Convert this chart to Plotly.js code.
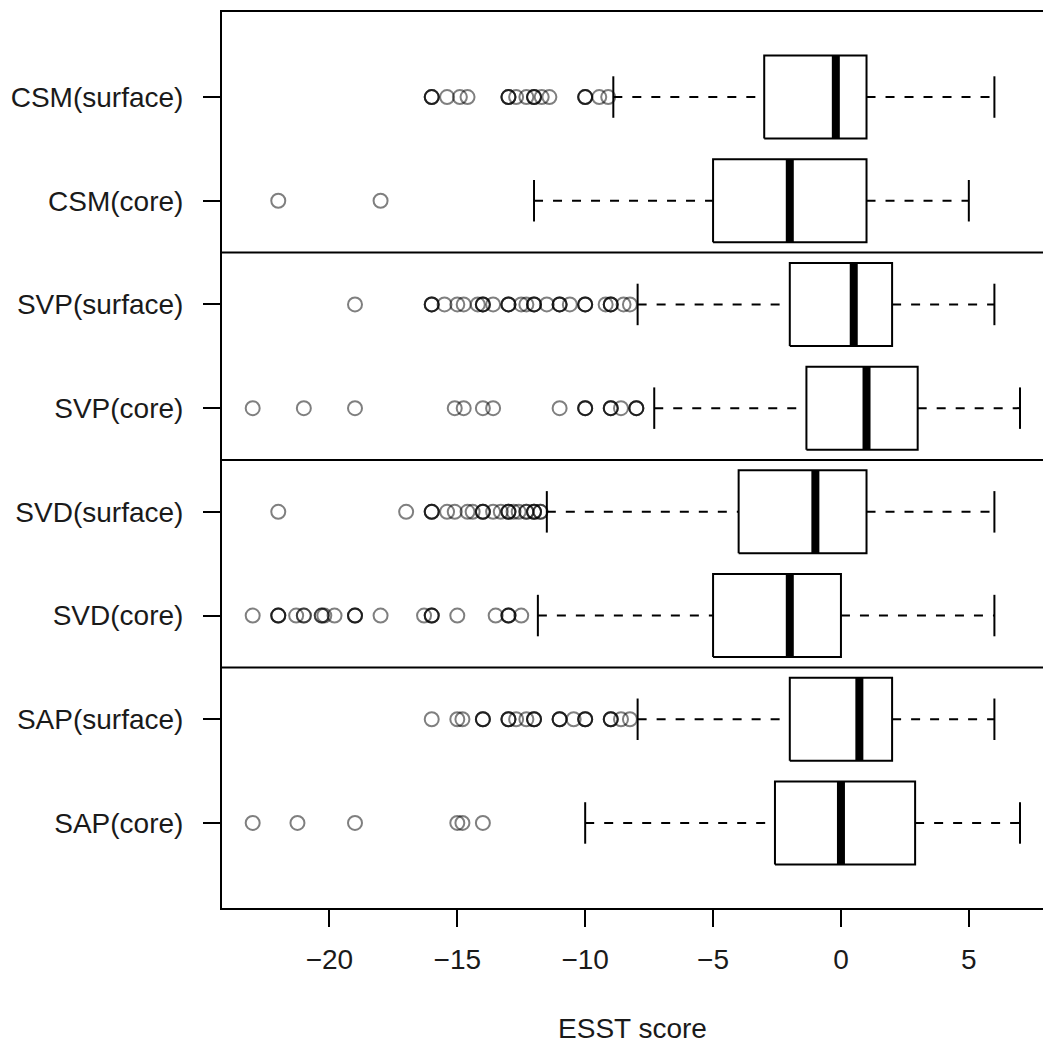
<!DOCTYPE html>
<html>
<head>
<meta charset="utf-8">
<script src="https://cdn.plot.ly/plotly-3.0.1.min.js"></script>
<style>html,body{margin:0;padding:0;background:#fff;overflow:hidden;}#chart{width:1043px;height:1046px;}</style>
</head>
<body>
<div id="chart"></div>
<script>
// Categories listed top to bottom
var categories = ["CSM(surface)", "CSM(core)", "SVP(surface)", "SVP(core)", "SVD(surface)", "SVD(core)", "SAP(surface)", "SAP(core)"];
var q1 = [-3.0, -5.0, -2.0, -1.35, -4.0, -5.0, -2.0, -2.58];
var medians = [-0.2, -2.0, 0.5, 1.0, -1.0, -2.0, 0.72, 0.0];
var q3 = [1.0, 1.0, 2.0, 3.0, 1.0, 0.0, 2.0, 2.9];
var lowerWhisker = [-8.9, -12.0, -7.95, -7.3, -11.5, -11.85, -7.95, -10.0];
var upperWhisker = [6.0, 5.0, 6.0, 7.0, 6.0, 6.0, 6.0, 7.0];

var outCSMsurface = [-16,-16,-16,-15.4,-14.9,-14.6,-13,-13,-13,-12.7,-12.3,-12,-12,-12,-11.7,-11.4,-10,-10,-10,-9.45,-9.1];
var outCSMcore = [-22,-18];
var outSVPsurface = [-19,-16,-16,-16,-15.5,-15,-14.75,-14.2,-14,-14,-14,-13.6,-13,-13,-13,-12.5,-12.3,-12,-12,-12,-11.5,-11,-11,-11,-10.6,-10,-10,-10,-9.2,-9,-9,-9,-8.5,-8.25];
var outSVPcore = [-23,-21,-19,-15.1,-14.75,-14,-13.6,-11,-10,-10,-10,-9,-9,-9,-8.6,-8,-8,-8];
var outSVDsurface = [-22,-17,-16,-16,-16,-15.4,-15.1,-14.6,-14.4,-14,-14,-14,-13.6,-13.3,-13,-13,-13,-12.8,-12.6,-12.3,-12.3,-12,-12,-12,-11.75,-11.75];
var outSVDcore = [-23,-22,-22,-22,-21.3,-21,-21,-20.3,-20.3,-20.2,-19.8,-19,-19,-19,-18,-16.3,-16,-16,-16,-15,-13.5,-13,-13,-13,-12.5];
var outSAPsurface = [-16,-15,-14.8,-14,-14,-14,-13,-13,-13,-12.7,-12.3,-12,-12,-12,-11,-11,-11,-10.45,-10,-10,-10,-9,-9,-9,-8.6,-8.25];
var outSAPcore = [-23,-21.25,-19,-15,-14.8,-14];
var outliers = [outCSMsurface, outCSMcore, outSVPsurface, outSVPcore, outSVDsurface, outSVDcore, outSAPsurface, outSAPcore];

var groupSeparators = [2.5, 4.5, 6.5];
var xTicks = [-20, -15, -10, -5, 0, 5];

var n = categories.length;
var pos = categories.map(function(c, i){ return n - i; });
var hw = 0.4, sw = 0.2;

var boxX = [], boxY = [], medX = [], medY = [], whX = [], whY = [], stX = [], stY = [], ptX = [], ptY = [];
for (var i = 0; i < n; i++) {
  var p = pos[i];
  boxX.push(q1[i], q3[i], q3[i], q1[i], q1[i], null);
  boxY.push(p - hw, p - hw, p + hw, p + hw, p - hw, null);
  medX.push(medians[i], medians[i], null);
  medY.push(p - hw, p + hw, null);
  whX.push(lowerWhisker[i], q1[i], null, q3[i], upperWhisker[i], null);
  whY.push(p, p, null, p, p, null);
  stX.push(lowerWhisker[i], lowerWhisker[i], null, upperWhisker[i], upperWhisker[i], null);
  stY.push(p - sw, p + sw, null, p - sw, p + sw, null);
  outliers[i].forEach(function(v){ ptX.push(v); ptY.push(p); });
}

var traces = [
  {type:'scatter', mode:'lines', x:whX, y:whY, line:{color:'#000', width:2, dash:'9px,10px'}, hoverinfo:'skip'},
  {type:'scatter', mode:'lines', x:stX, y:stY, line:{color:'#000', width:2}, hoverinfo:'skip'},
  {type:'scatter', mode:'lines', x:boxX, y:boxY, line:{color:'#000', width:2}, hoverinfo:'skip'},
  {type:'scatter', mode:'lines', x:medX, y:medY, line:{color:'#000', width:8}, hoverinfo:'skip'},
  {type:'scatter', mode:'markers', x:ptX, y:ptY, marker:{symbol:'circle-open', size:14, color:'rgba(0,0,0,0.5)', line:{width:2, color:'rgba(0,0,0,0.5)'}}, hoverinfo:'x'}
];

var shapes = groupSeparators.map(function(s){
  return {type:'line', xref:'paper', x0:0, x1:1, yref:'y', y0:s, y1:s, line:{color:'#000', width:2}};
});

var layout = {
  width:1043, height:1046,
  margin:{l:222, r:0, t:12, b:138},
  paper_bgcolor:'#fff', plot_bgcolor:'#fff',
  showlegend:false,
  font:{family:'"Liberation Sans", Arial, sans-serif', size:28, color:'#1a1a1a'},
  xaxis:{
    range:[-24.2, 7.9], tickvals:xTicks, showgrid:false, zeroline:false,
    showline:true, mirror:true, linecolor:'#000', linewidth:2,
    ticks:'outside', ticklen:17, tickwidth:2, tickcolor:'#000',
    ticklabelstandoff:8,
    title:{text:'ESST score', font:{size:28}, standoff:45}
  },
  yaxis:{
    range:[0.18, 8.82], tickvals:pos, ticktext:categories, showgrid:false, zeroline:false,
    showline:true, linecolor:'#000', linewidth:2,
    ticks:'outside', ticklen:17, tickwidth:2, tickcolor:'#000',
    ticklabelstandoff:14
  },
  shapes:shapes
};

Plotly.newPlot('chart', traces, layout, {displayModeBar:false, staticPlot:true});
</script>
</body>
</html>
